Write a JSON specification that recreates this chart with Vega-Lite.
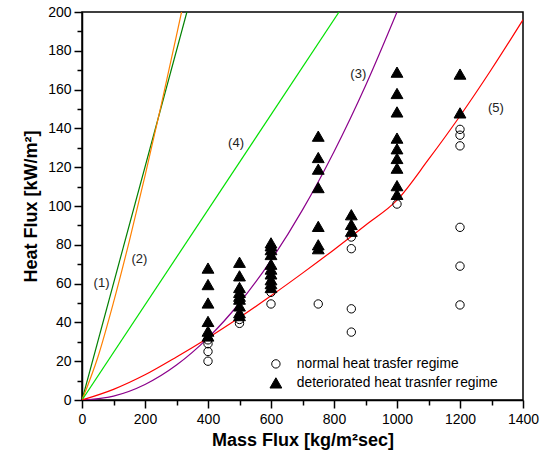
{
  "$schema": "https://vega.github.io/schema/vega-lite/v6.json",
  "width": 441,
  "height": 388,
  "autosize": "none",
  "padding": {"left": 82, "top": 12, "right": 24, "bottom": 66},
  "config": {
    "view": {"stroke": "black", "strokeWidth": 1.5},
    "font": "Liberation Sans",
    "axis": {"grid": false, "domainColor": "black", "tickColor": "black", "labelColor": "black", "titleColor": "black", "labelFont": "Liberation Sans", "titleFont": "Liberation Sans", "labelFlush": false, "labelOverlap": false, "format": "d"}
  },
  "datasets": {
    "curves": [
      {"curve": "1", "G": 0, "q": 0}, {"curve": "1", "G": 333, "q": 200},
      {"curve": "2", "G": 0, "q": 0}, {"curve": "2", "G": 50, "q": 21.9}, {"curve": "2", "G": 100, "q": 50.3}, {"curve": "2", "G": 150, "q": 81.8}, {"curve": "2", "G": 200, "q": 115.5}, {"curve": "2", "G": 250, "q": 151}, {"curve": "2", "G": 300, "q": 187.9}, {"curve": "2", "G": 316, "q": 200},
      {"curve": "3", "G": 0, "q": 0}, {"curve": "3", "G": 100, "q": 2}, {"curve": "3", "G": 200, "q": 8}, {"curve": "3", "G": 300, "q": 18}, {"curve": "3", "G": 400, "q": 32}, {"curve": "3", "G": 500, "q": 50}, {"curve": "3", "G": 600, "q": 72}, {"curve": "3", "G": 700, "q": 98}, {"curve": "3", "G": 800, "q": 128}, {"curve": "3", "G": 900, "q": 162}, {"curve": "3", "G": 1000, "q": 200},
      {"curve": "4", "G": 0, "q": 0}, {"curve": "4", "G": 816, "q": 200},
      {"curve": "5", "G": 0, "q": 0}, {"curve": "5", "G": 100, "q": 5.5}, {"curve": "5", "G": 200, "q": 13}, {"curve": "5", "G": 300, "q": 22.2}, {"curve": "5", "G": 400, "q": 32}, {"curve": "5", "G": 500, "q": 42.5}, {"curve": "5", "G": 600, "q": 53.7}, {"curve": "5", "G": 700, "q": 65.4}, {"curve": "5", "G": 800, "q": 77.5}, {"curve": "5", "G": 900, "q": 90.1}, {"curve": "5", "G": 1000, "q": 103}, {"curve": "5", "G": 1100, "q": 124}, {"curve": "5", "G": 1200, "q": 146.4}, {"curve": "5", "G": 1300, "q": 170.5}, {"curve": "5", "G": 1400, "q": 196}
    ],
    "pts": [
      {"G": 400, "q": 68, "regime": "deteriorated heat trasnfer regime"},
      {"G": 400, "q": 59.5, "regime": "deteriorated heat trasnfer regime"},
      {"G": 400, "q": 50, "regime": "deteriorated heat trasnfer regime"},
      {"G": 400, "q": 40.5, "regime": "deteriorated heat trasnfer regime"},
      {"G": 400, "q": 35.5, "regime": "deteriorated heat trasnfer regime"},
      {"G": 400, "q": 33, "regime": "deteriorated heat trasnfer regime"},
      {"G": 400, "q": 31, "regime": "normal heat trasfer regime"},
      {"G": 400, "q": 29, "regime": "normal heat trasfer regime"},
      {"G": 400, "q": 25, "regime": "normal heat trasfer regime"},
      {"G": 400, "q": 20, "regime": "normal heat trasfer regime"},
      {"G": 500, "q": 71, "regime": "deteriorated heat trasnfer regime"},
      {"G": 500, "q": 64, "regime": "deteriorated heat trasnfer regime"},
      {"G": 500, "q": 58, "regime": "deteriorated heat trasnfer regime"},
      {"G": 500, "q": 55.5, "regime": "deteriorated heat trasnfer regime"},
      {"G": 500, "q": 53.5, "regime": "deteriorated heat trasnfer regime"},
      {"G": 500, "q": 52, "regime": "deteriorated heat trasnfer regime"},
      {"G": 500, "q": 48.5, "regime": "deteriorated heat trasnfer regime"},
      {"G": 500, "q": 45, "regime": "deteriorated heat trasnfer regime"},
      {"G": 500, "q": 43.5, "regime": "deteriorated heat trasnfer regime"},
      {"G": 500, "q": 41.5, "regime": "normal heat trasfer regime"},
      {"G": 500, "q": 39.5, "regime": "normal heat trasfer regime"},
      {"G": 600, "q": 81, "regime": "deteriorated heat trasnfer regime"},
      {"G": 600, "q": 79.5, "regime": "deteriorated heat trasnfer regime"},
      {"G": 600, "q": 77.5, "regime": "deteriorated heat trasnfer regime"},
      {"G": 600, "q": 75, "regime": "deteriorated heat trasnfer regime"},
      {"G": 600, "q": 70, "regime": "deteriorated heat trasnfer regime"},
      {"G": 600, "q": 67.5, "regime": "deteriorated heat trasnfer regime"},
      {"G": 600, "q": 65, "regime": "deteriorated heat trasnfer regime"},
      {"G": 600, "q": 62, "regime": "deteriorated heat trasnfer regime"},
      {"G": 600, "q": 60, "regime": "deteriorated heat trasnfer regime"},
      {"G": 600, "q": 58, "regime": "deteriorated heat trasnfer regime"},
      {"G": 600, "q": 55.5, "regime": "normal heat trasfer regime"},
      {"G": 600, "q": 49.5, "regime": "normal heat trasfer regime"},
      {"G": 750, "q": 136, "regime": "deteriorated heat trasnfer regime"},
      {"G": 750, "q": 125, "regime": "deteriorated heat trasnfer regime"},
      {"G": 750, "q": 119, "regime": "deteriorated heat trasnfer regime"},
      {"G": 750, "q": 109.5, "regime": "deteriorated heat trasnfer regime"},
      {"G": 750, "q": 89.5, "regime": "deteriorated heat trasnfer regime"},
      {"G": 750, "q": 80, "regime": "deteriorated heat trasnfer regime"},
      {"G": 750, "q": 78, "regime": "deteriorated heat trasnfer regime"},
      {"G": 750, "q": 49.5, "regime": "normal heat trasfer regime"},
      {"G": 855, "q": 95.5, "regime": "deteriorated heat trasnfer regime"},
      {"G": 855, "q": 90.5, "regime": "deteriorated heat trasnfer regime"},
      {"G": 855, "q": 87, "regime": "deteriorated heat trasnfer regime"},
      {"G": 855, "q": 84, "regime": "normal heat trasfer regime"},
      {"G": 855, "q": 78, "regime": "normal heat trasfer regime"},
      {"G": 855, "q": 47, "regime": "normal heat trasfer regime"},
      {"G": 855, "q": 35, "regime": "normal heat trasfer regime"},
      {"G": 1000, "q": 169, "regime": "deteriorated heat trasnfer regime"},
      {"G": 1000, "q": 158, "regime": "deteriorated heat trasnfer regime"},
      {"G": 1000, "q": 148.5, "regime": "deteriorated heat trasnfer regime"},
      {"G": 1000, "q": 135, "regime": "deteriorated heat trasnfer regime"},
      {"G": 1000, "q": 129.5, "regime": "deteriorated heat trasnfer regime"},
      {"G": 1000, "q": 124.5, "regime": "deteriorated heat trasnfer regime"},
      {"G": 1000, "q": 119.5, "regime": "deteriorated heat trasnfer regime"},
      {"G": 1000, "q": 110.5, "regime": "deteriorated heat trasnfer regime"},
      {"G": 1000, "q": 106, "regime": "deteriorated heat trasnfer regime"},
      {"G": 1000, "q": 101, "regime": "normal heat trasfer regime"},
      {"G": 1200, "q": 168, "regime": "deteriorated heat trasnfer regime"},
      {"G": 1200, "q": 148, "regime": "deteriorated heat trasnfer regime"},
      {"G": 1200, "q": 139.5, "regime": "normal heat trasfer regime"},
      {"G": 1200, "q": 136.5, "regime": "normal heat trasfer regime"},
      {"G": 1200, "q": 131, "regime": "normal heat trasfer regime"},
      {"G": 1200, "q": 89, "regime": "normal heat trasfer regime"},
      {"G": 1200, "q": 69, "regime": "normal heat trasfer regime"},
      {"G": 1200, "q": 49, "regime": "normal heat trasfer regime"}
    ],
    "labels": [
      {"label": "(1)", "G": 62, "q": 60.5},
      {"label": "(2)", "G": 182, "q": 72.5},
      {"label": "(3)", "G": 877, "q": 168},
      {"label": "(4)", "G": 489, "q": 132.7},
      {"label": "(5)", "G": 1314, "q": 150.7}
    ]
  },
  "layer": [
    {
      "data": {"name": "curves"},
      "mark": {"type": "line", "clip": true, "strokeWidth": 1.2, "interpolate": "monotone"},
      "encoding": {
        "x": {"field": "G", "type": "quantitative", "scale": {"domain": [0, 1400], "nice": false},
          "axis": {"orient": "bottom", "values": [0, 200, 400, 600, 800, 1000, 1200, 1400], "tickSize": 8, "tickWidth": 1.5, "domainWidth": 1.5, "labelFontSize": 14, "labelPadding": 4, "title": "Mass Flux [kg/m²sec]", "titleFontSize": 18, "titleFontWeight": "bold", "titlePadding": 5}},
        "y": {"field": "q", "type": "quantitative", "scale": {"domain": [0, 200], "nice": false},
          "axis": {"orient": "left", "values": [0, 20, 40, 60, 80, 100, 120, 140, 160, 180, 200], "tickSize": 8, "tickWidth": 1.5, "domainWidth": 1.5, "labelFontSize": 14, "labelPadding": 3, "title": "Heat Flux [kW/m²]", "titleFontSize": 18, "titleFontWeight": "bold", "titlePadding": 7}},
        "color": {"field": "curve", "type": "nominal", "scale": {"domain": ["1", "2", "3", "4", "5"], "range": ["#008000", "#ff8000", "#8b008b", "#00e000", "#ff0000"]}, "legend": null}
      }
    },
    {
      "data": {"name": "pts"},
      "mark": {"type": "point", "filled": true, "strokeWidth": 1, "opacity": 1},
      "encoding": {
        "x": {"field": "G", "type": "quantitative", "axis": null},
        "y": {"field": "q", "type": "quantitative", "axis": null},
        "shape": {"field": "regime", "type": "nominal", "scale": {"domain": ["normal heat trasfer regime", "deteriorated heat trasnfer regime"], "range": ["circle", "triangle-up"]},
          "legend": {"orient": "none", "legendX": 187, "legendY": 345, "title": null, "labelFontSize": 13.8, "labelColor": "black", "labelLimit": 400, "rowPadding": 4, "labelOffset": 14, "symbolStrokeWidth": 1}},
        "fill": {"field": "regime", "type": "nominal", "scale": {"domain": ["normal heat trasfer regime", "deteriorated heat trasnfer regime"], "range": ["transparent", "black"]},
          "legend": {"orient": "none", "legendX": 187, "legendY": 345, "title": null, "labelFontSize": 13.8, "labelColor": "black", "labelLimit": 400, "rowPadding": 4, "labelOffset": 14, "symbolStrokeWidth": 1}},
        "stroke": {"field": "regime", "type": "nominal", "scale": {"domain": ["normal heat trasfer regime", "deteriorated heat trasnfer regime"], "range": ["black", "black"]},
          "legend": {"orient": "none", "legendX": 187, "legendY": 345, "title": null, "labelFontSize": 13.8, "labelColor": "black", "labelLimit": 400, "rowPadding": 4, "labelOffset": 14, "symbolStrokeWidth": 1}},
        "size": {"field": "regime", "type": "nominal", "scale": {"domain": ["normal heat trasfer regime", "deteriorated heat trasnfer regime"], "range": [70, 140]},
          "legend": {"orient": "none", "legendX": 187, "legendY": 345, "title": null, "labelFontSize": 13.8, "labelColor": "black", "labelLimit": 400, "rowPadding": 4, "labelOffset": 14, "symbolStrokeWidth": 1}}
      }
    },
    {
      "data": {"name": "labels"},
      "mark": {"type": "text", "fontSize": 13, "color": "#222222", "font": "Liberation Sans"},
      "encoding": {
        "x": {"field": "G", "type": "quantitative",
          "axis": {"orient": "bottom", "values": [100, 300, 500, 700, 900, 1100, 1300], "labels": false, "domain": false, "tickSize": 5, "tickWidth": 1.5, "title": null}},
        "y": {"field": "q", "type": "quantitative",
          "axis": {"orient": "left", "values": [10, 30, 50, 70, 90, 110, 130, 150, 170, 190], "labels": false, "domain": false, "tickSize": 5, "tickWidth": 1.5, "title": null}},
        "text": {"field": "label", "type": "nominal"}
      }
    }
  ],
  "resolve": {"axis": {"x": "independent", "y": "independent"}}
}
